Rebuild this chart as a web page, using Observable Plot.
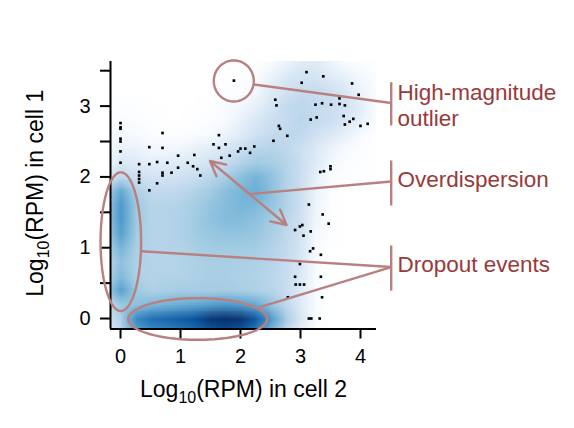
<!DOCTYPE html>
<html><head><meta charset="utf-8">
<script src="https://cdn.jsdelivr.net/npm/d3@7"></script>
<script src="https://cdn.jsdelivr.net/npm/@observablehq/plot@0.6"></script>
<style>body{margin:0;background:#fff;}#chart{width:574px;height:428px;}</style>
</head><body><div id="chart"></div>
<script>
// ---- axes ----
const xDomain = [-0.167, 4.267];
const yDomain = [-0.148, 3.63];
const xTicks = [0, 1, 2, 3, 4];
const yTicks = [0, 0.5, 1, 1.5, 2, 2.5, 3, 3.5];
const xTitle = "Log10(RPM) in cell 2";
const yTitle = "Log10(RPM) in cell 1";

// ---- low-density points (black dots) ----
const dotX = [0,0,0,0,0,0,0, 0.70,0.48,0.70, 0.31,0.31,0.31,0.31,0.31,
  0.48,0.61,0.70,0.70,0.78,0.85,0.96,0.96,0.61,0.48,
  1.12,1.21,1.23,1.28,1.33, 1.64,1.55,1.64,1.75,1.68,1.82,
  1.89, 3.10,3.02,3.38,3.86,3.97, 2.58,2.60,
  3.25,3.36,3.51,3.65,3.74,3.65, 3.17,3.27,3.72,3.82,3.88,3.74,4.00,4.12,
  2.64,2.66,2.78,2.55, 1.96,2.00,2.08,2.16,2.23,
  3.14,3.37,3.47,2.91,2.99,3.03,3.17,3.05,
  3.21,3.16,3.34,2.99,2.91,3.34,2.92,2.99,3.06,
  2.79,3.36,3.14,3.18,3.32, 3.33,3.39,3.50,3.50];
const dotY = [2.76,2.70,2.68,2.54,2.50,2.36,2.20, 2.62,2.42,2.41, 2.18,2.07,2.02,1.97,1.92,
  2.18,2.21,2.06,2.02,2.20,2.06,2.30,2.13,1.91,1.81,
  2.20,2.15,2.31,2.11,2.02, 2.59,2.46,2.41,2.46,2.27,2.30,
  3.36, 3.48,3.33,3.42,3.32,3.16, 3.09,3.01,
  3.02,3.04,3.02,3.03,3.01,3.11, 2.81,2.84,2.86,2.78,2.82,2.74,2.72,2.75,
  2.72,2.68,2.58,2.51, 2.36,2.40,2.40,2.34,2.43,
  1.61,1.47,1.34,1.25,1.30,1.32,1.23,1.17,
  0.99,0.95,0.90,0.77,0.59,0.59,0.48,0.48,0.48,
  0.30,0.30,0,0,0, 2.07,2.08,2.15,2.11];

// ---- smoothed density (estimated, 0 = white .. 9 = darkest blue) ----
// columns x = -0.25 .. 4.25 step 0.25 ; rows y = 3.6 .. -0.2 step -0.2
const densityCols = 19, densityRowsN = 20;
const densityBounds = [-0.375, 4.375, 3.7, -0.3]; // x1, x2, y1(top), y2(bottom)
const densityRows = [
  [0,0,0,0,0,0,0,0,0,0,0.3,1,1.5,2,2,1.5,1,0.5,0.3],
  [0,0,0,0,0,0,0,0,0,0.2,0.7,1.5,2.2,2.5,2.5,2,1.7,1.2,0.5],
  [0,0,0,0,0,0,0,0,0.2,0.5,1.2,2,2.5,3,3,2.7,2.2,1.5,0.7],
  [0,0.3,0.2,0,0,0,0,0.3,0.7,1.2,1.7,2.3,3,3.2,3,2.8,2.5,1.8,0.8],
  [0,0.7,0.5,0.2,0,0,0.2,0.5,1,1.6,2.2,2.7,3,3.3,3,2.7,2.3,1.6,0.6],
  [0.3,1.2,1,0.5,0.5,0.5,0.7,1,1.5,2,2.6,3,3.2,3.1,2.6,2.1,1.6,1,0.3],
  [0.8,1.6,1.5,1.2,1.2,1.3,1.6,1.9,2.3,2.8,3.3,3.4,3.2,2.7,2.1,1.5,1,0.5,0],
  [1.2,2.2,2,1.8,1.8,2,2.2,2.5,3,3.5,3.9,3.8,3.4,2.8,2,1.2,0.5,0.2,0],
  [2.2,3.2,2.7,2.5,2.5,2.6,2.9,3.3,3.8,4.4,4.8,4.3,3.5,2.8,1.7,0.7,0.2,0,0],
  [3.5,5.2,3.6,3.1,3.1,3.2,3.5,3.9,4.4,4.7,5,4.4,3.5,2.7,1.5,0.5,0,0,0],
  [3.8,5.8,4,3.4,3.4,3.5,3.8,4.2,4.5,4.7,4.6,4.2,3.5,2.7,1.4,0.4,0,0,0],
  [3.8,5.8,4,3.4,3.4,3.6,3.9,4.3,4.5,4.5,4.3,3.9,3.3,2.6,1.3,0.3,0,0,0],
  [3.6,5.5,3.9,3.4,3.4,3.6,3.9,4.1,4.2,4.2,4.1,3.7,3.2,2.5,1.1,0.2,0,0,0],
  [3.3,4.8,3.7,3.4,3.4,3.5,3.7,3.9,3.9,3.9,3.8,3.5,3.1,2.4,1,0.1,0,0,0],
  [3.1,4.3,3.6,3.4,3.4,3.5,3.6,3.7,3.7,3.7,3.6,3.4,3,2.2,0.8,0,0,0,0],
  [3.2,4.6,3.6,3.4,3.5,3.5,3.6,3.7,3.7,3.6,3.5,3.3,2.9,2.1,0.8,0,0,0,0],
  [3.6,5.5,4,3.6,3.7,3.8,3.8,3.8,3.8,3.7,3.6,3.4,2.9,2,0.8,0,0,0,0],
  [2.8,4,4.3,4.6,4.8,5,5.2,5.5,5.7,5.5,5.1,4.2,3.2,2,0.8,0,0,0,0],
  [2.2,3.6,6.2,7,7.3,7.6,8,8.8,9,8.8,7.7,5.7,3.8,2.2,0.8,0,0,0,0],
  [1.8,3.2,5.2,6,6.3,6.6,7,7.6,7.9,7.6,6.5,4.6,3,1.5,0.5,0,0,0,0]
];
const rampDomain = [0,1,2,3,4,5,6,7,8,9];
const rampColors = ["#FFFFFF","#F7FBFF","#DEEBF7","#C6DBEF","#9ECAE1","#6BAED6","#4292C6","#2171B5","#08519C","#08306B"];

// ---- annotations (data coordinates) ----
const annColor = "#b98080";
const textColor = "#983a3a";
const ellCx = [1.888, 0.005, 1.287];
const ellCy = [3.355, 1.085, -0.007];
const ellRx = [0.333, 0.338, 1.158];
const ellRy = [0.29, 0.98, 0.294];
const leadX1 = [2.222, 2.167, 0.345, 2.322];
const leadY1 = [3.305, 1.76, 0.951, 0.16];
const leadX2 = [4.512, 4.512, 4.512, 4.512];
const leadY2 = [3.044, 1.935, 0.727, 0.727];
const bracketX = [4.512, 4.512, 4.512];
const bracketY1 = [3.338, 2.232, 1.031];
const bracketY2 = [2.726, 1.596, 0.395];
const arrowEndX = [1.492, 2.767];
const arrowEndY = [2.225, 1.321];
const labelText = ["High-magnitude", "outlier", "Overdispersion", "Dropout events"];
const labelX = [4.617, 4.617, 4.617, 4.617];
const labelY = [3.089, 2.726, 1.855, 0.654];

// ---- build tables ----
const dots = dotX.map((x, i) => ({x, y: dotY[i]}));
const densityValues = densityRows.flat();
const angles = d3.range(0, 361, 4);
const ellipsePts = ellCx.flatMap((cx, i) => angles.map(a => ({
  e: i, x: cx + ellRx[i] * Math.cos(a * Math.PI / 180), y: ellCy[i] + ellRy[i] * Math.sin(a * Math.PI / 180)})));
const leaders = leadX1.map((x1, i) => ({x1, y1: leadY1[i], x2: leadX2[i], y2: leadY2[i]}));
const brackets = bracketX.map((x, i) => ({x, y1: bracketY1[i], y2: bracketY2[i]}));
const midX = (arrowEndX[0] + arrowEndX[1]) / 2, midY = (arrowEndY[0] + arrowEndY[1]) / 2;
const arrows = arrowEndX.map((x, i) => ({x1: midX, y1: midY, x2: x, y2: arrowEndY[i]}));
const labels = labelText.map((t, i) => ({t, x: labelX[i], y: labelY[i]}));

const font = "Liberation Sans, Arial, Helvetica, sans-serif";
const plot = Plot.plot({
  width: 574, height: 428,
  marginLeft: 110, marginRight: 198, marginTop: 61, marginBottom: 99.5,
  style: {fontFamily: font, background: "white", color: "black", overflow: "visible"},
  x: {domain: xDomain, label: null},
  y: {domain: yDomain, label: null},
  color: {type: "linear", domain: rampDomain, range: rampColors, clamp: true},
  marks: [
    Plot.raster(densityValues, {width: densityCols, height: densityRowsN,
      x1: densityBounds[0], x2: densityBounds[1], y1: densityBounds[2], y2: densityBounds[3],
      fill: d => d, clip: true}),
    Plot.dot(dots, {x: "x", y: "y", symbol: "square", r: 1.5, fill: "black"}),
    Plot.ruleY([yDomain[0]], {strokeWidth: 2}),
    Plot.ruleX([xDomain[0]], {strokeWidth: 2}),
    Plot.axisX({ticks: xTicks, tickSize: 10, tickPadding: 10, fontSize: 20, strokeWidth: 2, label: null,
      tickFormat: d => String(d)}),
    Plot.axisY({ticks: yTicks, tickSize: 10, tickPadding: 10, fontSize: 20, strokeWidth: 2, label: null,
      tickFormat: d => Number.isInteger(d) ? String(d) : ""}),
    Plot.line(ellipsePts, {x: "x", y: "y", z: "e", stroke: annColor, strokeWidth: 2.4}),
    Plot.link(leaders, {x1: "x1", y1: "y1", x2: "x2", y2: "y2", stroke: annColor, strokeWidth: 2.4}),
    Plot.link(brackets, {x1: "x", y1: "y1", x2: "x", y2: "y2", stroke: annColor, strokeWidth: 2.4}),
    Plot.arrow(arrows, {x1: "x1", y1: "y1", x2: "x2", y2: "y2", stroke: annColor, strokeWidth: 2.4,
      headLength: 12, headAngle: 55}),
    Plot.text(labels, {x: "x", y: "y", text: "t", textAnchor: "start", lineAnchor: "bottom",
      fontSize: 22.5, fill: textColor}),
    Plot.text([xTitle], {text: d => d, frameAnchor: "bottom", textAnchor: "middle", lineAnchor: "bottom", dy: 68, fontSize: 23, fill: "black"}),
    Plot.text([yTitle], {text: d => d, frameAnchor: "left", textAnchor: "middle", lineAnchor: "bottom", rotate: -90, dx: -68, dy: -2, fontSize: 23, fill: "black"})
  ]
});
// subscript for "Log10"
plot.querySelectorAll("text").forEach(t => {
  const s = t.textContent;
  if (s.startsWith("Log10(")) {
    t.textContent = "";
    const ns = "http://www.w3.org/2000/svg";
    const a = document.createElementNS(ns, "tspan"); a.textContent = "Log";
    const b = document.createElementNS(ns, "tspan"); b.textContent = "10";
    b.setAttribute("font-size", "16px"); b.setAttribute("dy", "6");
    const c = document.createElementNS(ns, "tspan"); c.textContent = s.slice(5); c.setAttribute("dy", "-6");
    t.append(a, b, c);
  }
});
document.getElementById("chart").append(plot);
</script></body></html>
